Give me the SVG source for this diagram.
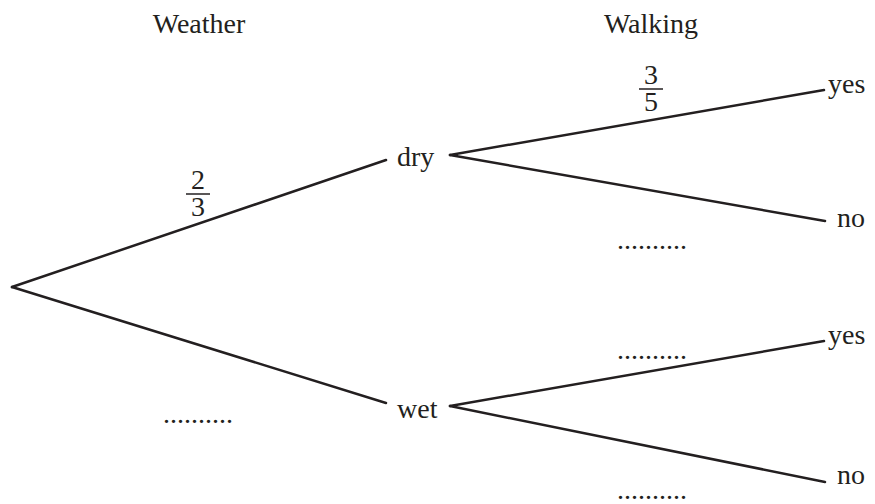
<svg xmlns="http://www.w3.org/2000/svg" width="875" height="504" viewBox="0 0 875 504">
<style>
text{font-family:"Liberation Serif","Times New Roman",serif;font-size:28px;fill:#231f20}
.c line{stroke:#231f20;stroke-width:2.5;stroke-linecap:round}
.bar{stroke:#231f20;stroke-width:1.5}
</style>
<rect width="875" height="504" fill="#fff"/>
<g id="headers">
<text x="199" y="33" text-anchor="middle">Weather</text>
<text x="651" y="33" text-anchor="middle">Walking</text>
</g>
<g class="c" id="connectors">
<line x1="12" y1="287" x2="386" y2="160"/>
<line x1="12" y1="287" x2="386" y2="403"/>
<line x1="450" y1="155" x2="824" y2="90"/>
<line x1="450" y1="155" x2="825" y2="221"/>
<line x1="450" y1="406" x2="824" y2="341"/>
<line x1="450" y1="406" x2="825" y2="482"/>
</g>
<g id="dry"><text x="397" y="166">dry</text></g>
<g id="wet"><text x="397" y="418">wet</text></g>
<g id="dry-yes"><text x="828" y="93">yes</text></g>
<g id="dry-no"><text x="837" y="227">no</text></g>
<g id="wet-yes"><text x="828" y="344">yes</text></g>
<g id="wet-no"><text x="837" y="484">no</text></g>
<g id="labels">
<text x="198" y="189" text-anchor="middle">2</text>
<line class="bar" x1="186" y1="194" x2="210" y2="194"/>
<text x="198" y="216" text-anchor="middle">3</text>
<text x="651" y="84" text-anchor="middle">3</text>
<line class="bar" x1="639" y1="89" x2="663" y2="89"/>
<text x="651" y="111" text-anchor="middle">5</text>
<text x="163" y="423">..........</text>
<text x="617" y="249">..........</text>
<text x="617" y="359">..........</text>
<text x="617" y="499">..........</text>
</g>
</svg>
